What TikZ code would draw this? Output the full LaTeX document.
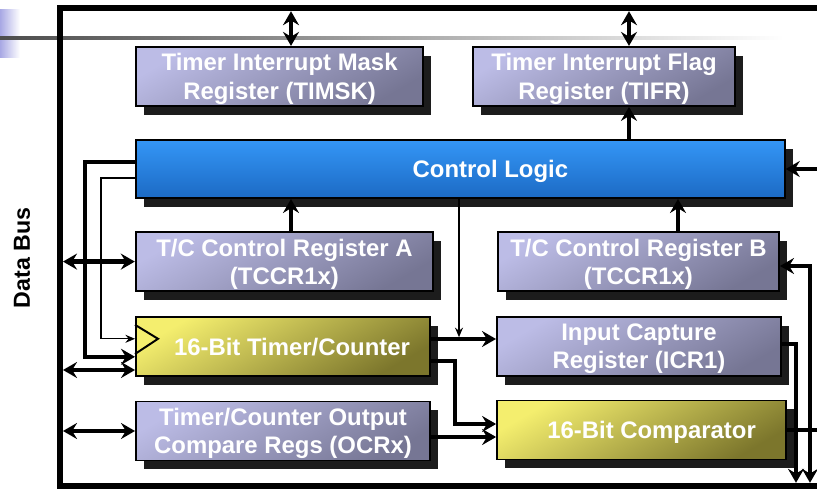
\documentclass[tikz,border=0pt]{standalone}
\usepackage{fontspec}
\setsansfont{Liberation Sans}
\usetikzlibrary{arrows.meta,shadows}
\definecolor{regtop}{RGB}{188,188,230}
\definecolor{regbot}{RGB}{118,118,148}
\definecolor{yeltop}{RGB}{244,238,110}
\definecolor{yelbot}{RGB}{124,118,44}
\definecolor{logtop}{RGB}{52,150,246}
\definecolor{logbot}{RGB}{28,106,196}
\definecolor{shadowgray}{RGB}{28,28,28}
\definecolor{deco}{RGB}{168,168,228}
\tikzset{
  regbox/.style={draw=black, line width=1.4pt, top color=regtop, bottom color=regbot,
              shading angle=30, text=white, align=center, inner sep=2pt, text depth=0pt,
              font=\sffamily\bfseries\fontsize{17}{20}\selectfont, minimum height=1.475cm,
              drop shadow={shadow xshift=2mm, shadow yshift=-2.2mm, fill=shadowgray, opacity=1}},
  yelbox/.style={regbox, top color=yeltop, bottom color=yelbot, shading angle=30},
  logicbox/.style={regbox, top color=logtop, bottom color=logbot, minimum height=1.45cm},
  frame/.style={line width=4.4pt},
  flow/.style={-{Stealth[length=3.5mm, width=4mm, inset=1.2mm]}, line width=3.2pt},
  dbl/.style={{Stealth[length=3.5mm, width=4mm, inset=1.2mm]}-{Stealth[length=3.5mm, width=4mm, inset=1.2mm]}, line width=3.2pt},
  thinflow/.style={-{Stealth[length=2.4mm, width=2mm, inset=0.8mm]}, line width=0.9pt},
  wire/.style={line width=3.2pt},
}

\begin{document}
\begin{tikzpicture}
  \useasboundingbox (0,0) rectangle (20.425,-12.275);
  % slide header bits
  \shade[left color=deco, right color=white] (0,-0.25) rectangle (0.5,-1.45);
  \shade[left color=black!70, right color=white] (0,-0.92) rectangle (19.6,-0.99);

  % data bus
  \draw[frame] (20.6,-0.2) -- (1.5,-0.2) -- (1.5,-12.15) -- (20.6,-12.15);
  \node[rotate=90, font=\sffamily\bfseries\fontsize{16.5}{19}\selectfont] (dbus) at (0.55,-6.45) {Data Bus};

  % blocks
  \node[regbox, minimum width=7.18cm] (timsk) at (6.99,-1.91) {Timer Interrupt Mask\\Register (TIMSK)};
  \node[regbox, minimum width=6.55cm] (tifr) at (15.1,-1.91) {Timer Interrupt Flag\\Register (TIFR)};
  \node[logicbox, minimum width=16.22cm] (ctrl) at (11.51,-4.225) {\hspace*{1.5cm}Control Logic};
  \node[regbox, minimum width=7.43cm] (tccra) at (7.11,-6.54) {T/C Control Register A\\(TCCR1x)};
  \node[regbox, minimum width=7.03cm] (tccrb) at (15.96,-6.54) {T/C Control Register B\\(TCCR1x)};
  \node[yelbox, minimum width=7.35cm] (tcnt) at (7.075,-8.66) {\hspace*{0.45cm}16-Bit Timer/Counter};
  \node[regbox, minimum width=7.1cm] (icr) at (15.975,-8.66) {Input Capture\\Register (ICR1)};
  \node[regbox, minimum width=7.35cm] (ocr) at (7.075,-10.775) {Timer/Counter Output\\Compare Regs (OCRx)};
  \node[yelbox, minimum width=7.225cm] (comp) at (16.04,-10.75) {\hspace*{0.5cm}16-Bit Comparator};

  % clock input mark
  \draw[line width=1.4pt] ([yshift=5.4mm]tcnt.west) -- ([xshift=5.75mm,yshift=1.9mm]tcnt.west)
    -- ([yshift=-1.9mm]tcnt.west);

  % bus columns and ports
  \coordinate (colA) at (7.275,-0.28);
  \coordinate (colF) at (15.725,-0.28);
  \coordinate (colB) at (16.95,0);
  \coordinate (colT) at (11.475,-8.43);
  \coordinate (busL) at (1.575,0);
  \coordinate (busB) at (0,-12.07);
  \coordinate (edgeR) at (20.6,0);
  \coordinate (loopO) at (2.125,0);
  \coordinate (loopI) at (2.525,0);
  \coordinate (jog) at (11.375,0);
  \coordinate (dropI) at (19.9,0);
  \coordinate (dropB) at (20.25,0);
  \coordinate (tcntbus) at ([yshift=-5.9mm]tcnt.west);
  \coordinate (tcntclk) at ([yshift=1.9mm]tcnt.west);
  \coordinate (tcntld) at ([yshift=-2.6mm]tcnt.west);
  \coordinate (ctrlo) at ([yshift=1.75mm]ctrl.west);
  \coordinate (ctrli) at ([yshift=-2.25mm]ctrl.west);
  \coordinate (tcntq) at ([yshift=1.85mm]tcnt.east);
  \coordinate (tcntc) at ([yshift=-3.65mm]tcnt.east);
  \coordinate (compa) at ([yshift=1.5mm]comp.west);
  \coordinate (ocrq) at ([yshift=-1.5mm]ocr.east);
  \coordinate (icrq) at ([yshift=0.6mm]icr.east);
  \coordinate (tccrbin) at ([yshift=-1.1mm]tccrb.east);

  % connections
  \draw[dbl] (colA) -- (colA |- timsk.north);
  \draw[dbl] (colF) -- (colF |- tifr.north);
  \draw[flow] (colF |- ctrl.north) -- (colF |- tifr.south);
  \draw[flow] (colA |- tccra.north) -- (colA |- ctrl.south);
  \draw[flow] (colB |- tccrb.north) -- (colB |- ctrl.south);
  \draw[flow] (edgeR |- ctrl.east) -- (ctrl.east);
  \draw[dbl] (busL |- tccra.west) -- (tccra.west);
  \draw[dbl] (busL |- tcntbus) -- (tcntbus);
  \draw[dbl] (busL |- ocr.west) -- (ocr.west);
  \draw[flow] (ctrlo) -| (loopO |- tcntld) -- (tcntld);
  \draw[thinflow] (ctrli) -| (loopI |- tcntclk) -- (tcntclk);
  \draw[thinflow] (colT |- ctrl.south) -- (colT);
  \draw[flow] (tcntq) -- (tcntq -| icr.west);
  \draw[flow] (tcntc) -| (jog |- compa) -- (compa);
  \draw[flow] (ocrq) -- (ocrq -| comp.west);
  \draw[flow] (icrq) -| (dropI |- busB);
  \draw[wire] (comp.east) -- (edgeR |- comp.east);
  \draw[dbl] (tccrbin) -| (dropB |- busB);
\end{tikzpicture}
\end{document}
